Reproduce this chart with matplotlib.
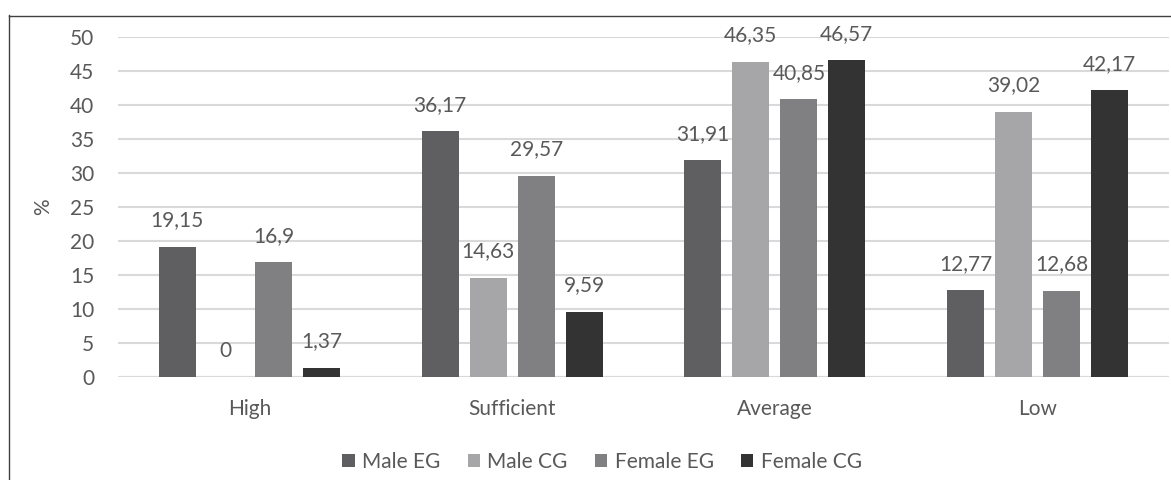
import numpy as np
import matplotlib
matplotlib.use("Agg")
from matplotlib import pyplot as plt
from matplotlib.lines import Line2D

categories = ["High", "Sufficient", "Average", "Low"]
series = ["Male EG", "Male CG", "Female EG", "Female CG"]
male_eg = [19.15, 36.17, 31.91, 12.77]
male_cg = [0, 14.63, 46.35, 39.02]
female_eg = [16.9, 29.57, 40.85, 12.68]
female_cg = [1.37, 9.59, 46.57, 42.17]
yticks = [0, 5, 10, 15, 20, 25, 30, 35, 40, 45, 50]

colors = ["#5f5f61", "#a6a6a8", "#808083", "#333333"]
text_col = "#595959"

plt.rcParams["font.family"] = ["Lato", "DejaVu Sans"]

W, H = 1171, 480
fig = plt.figure(figsize=(W / 100, H / 100), dpi=100)
ax = fig.add_axes([118 / W, 1 - 377 / H, (1169 - 118) / W, 340 / H])

x = np.arange(len(categories))
pitch = 0.1827
width = 0.141
data = [male_eg, male_cg, female_eg, female_cg]
for i, (vals, name, c) in enumerate(zip(data, series, colors)):
    xs = x + (i - 1.5) * pitch
    ax.bar(xs, vals, width=width, color=c, label=name, zorder=2)
    for xx, v in zip(xs, vals):
        lab = ("%g" % v).replace(".", ",")
        ax.annotate(lab, xy=(xx, v), xytext=(0, 19), textcoords="offset points",
                    ha="center", va="center", fontsize=15, color=text_col)

ax.set_xlim(-0.5, 3.5)
ax.set_ylim(0, 50)
ax.set_yticks(yticks)
ax.set_xticks(x)
ax.set_xticklabels(categories)
ax.tick_params(axis="both", length=0, labelsize=15, labelcolor=text_col)
ax.tick_params(axis="y", pad=17)
ax.tick_params(axis="x", pad=16)
ax.yaxis.grid(True, color="#d9d9d9", linewidth=1.5, zorder=0)
ax.set_axisbelow(True)
for s in ax.spines.values():
    s.set_visible(False)
ax.axhline(0, color="#d9d9d9", linewidth=1.5, zorder=1)
ax.set_ylabel("%", fontsize=15, color=text_col, labelpad=12)

leg = fig.legend(loc="center", bbox_to_anchor=(602 / W, 1 - 462 / H), ncol=4,
                 frameon=False, fontsize=15, handlelength=0.6, handleheight=0.6,
                 handletextpad=0.35, columnspacing=1.3)
for t in leg.get_texts():
    t.set_color(text_col)

# outer frame (left and top edges only visible)
fig.add_artist(Line2D([8.5 / W, 8.5 / W], [0, 1 - 15 / H], transform=fig.transFigure,
                      color="#404040", linewidth=1))
fig.add_artist(Line2D([8.5 / W, 1], [1 - 15.5 / H, 1 - 15.5 / H], transform=fig.transFigure,
                      color="#404040", linewidth=1))

fig.savefig("out.png", dpi=100)
